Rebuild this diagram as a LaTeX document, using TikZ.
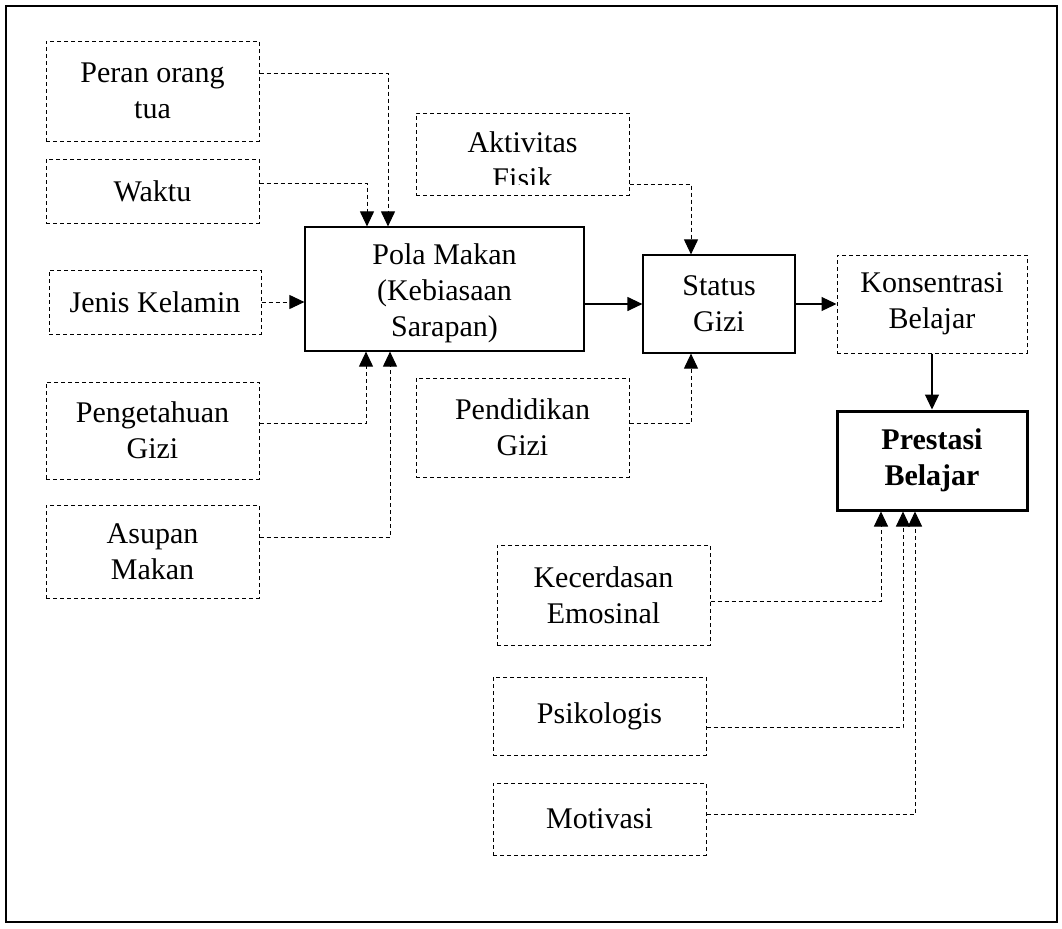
\documentclass[tikz,border=0pt]{standalone}
\usepackage{fontspec}
\setmainfont{Liberation Serif}
\usetikzlibrary{arrows.meta}
\tikzset{
  sz/.style 2 args={minimum width=0.5pt*#1, minimum height=0.5pt*#2},
  dbox/.style={draw, line width=0.5pt, dash pattern=on 2pt off 1.5pt, inner sep=0pt, align=center},
  sbox/.style={draw, line width=0.6pt, inner sep=0pt, align=center},
  bold/.style={font=\fontsize{15}{18}\selectfont\bfseries},
  link/.style={line width=0.5pt, dash pattern=on 2pt off 1.5pt, -{Triangle[length=7.5pt,width=7pt]}},
  flow/.style={line width=0.6pt, -{Triangle[length=7.5pt,width=7pt]}},
}
\begin{document}
\begin{tikzpicture}[x=0.5pt, y=-0.5pt, font=\fontsize{15}{18}\selectfont]
      \useasboundingbox (0,0) rectangle (1062,928);
      \draw[line width=1pt] (6,6) rectangle (1057,922);
      \draw
        (152.5,91) node[dbox,sz={213}{100}] (peran) {Peran orang\\tua}
        (152.5,191) node[dbox,sz={213}{64}] (waktu) {Waktu}
        (155,302) node[dbox,sz={212}{64}] (jenis) {Jenis Kelamin}
        (152.5,430.5) node[dbox,sz={213}{97}] (pengetahuan) {Pengetahuan\\Gizi}
        (152.5,551.5) node[dbox,sz={213}{93}] (asupan) {Asupan\\Makan}
        (444.5,289) node[sbox,sz={279}{124}] (pola) {}
        (522.5,154) node[dbox,sz={213}{82}] (aktivitas) {}
        (522.5,427.5) node[dbox,sz={213}{99}] (pendidikan) {Pendidikan\\Gizi}
        (719,304) node[sbox,sz={152}{98}] (status) {Status\\Gizi}
        (932,304) node[dbox,sz={190}{98}] (konsentrasi) {Konsentrasi\\Belajar}
        (932,460.5) node[sbox,bold,line width=1.5pt,sz={190}{99}] (prestasi) {Prestasi\\Belajar}
        (603.5,595) node[dbox,sz={213}{100}] (kecerdasan) {Kecerdasan\\Emosinal}
        (599.5,716) node[dbox,sz={213}{78}] (psikologis) {Psikologis}
        (599.5,819) node[dbox,sz={213}{72}] (motivasi) {Motivasi};
      % text cut off at the lower margin of the box
      \begin{scope}
        \clip (305,227) rectangle (584,343);
        \node[align=center] (polatxt) at (444.5,293) {Pola Makan\\(Kebiasaan\\Sarapan)};
      \end{scope}
      \begin{scope}
        \clip (416,113) rectangle (629,184);
        \node[align=center] (aktivitastxt) at (522.5,160) {Aktivitas\\Fisik};
      \end{scope}
      \begin{scope}[link]
        \draw ([yshift=9pt]peran.east) -| ([xshift=-28.25pt]pola.north);
        \draw ([yshift=4pt]waktu.east) -| ([xshift=-38.75pt]pola.north);
        \draw (jenis.east) -- (jenis.east -| pola.west);
        \draw ([yshift=3.75pt]pengetahuan.east) -| ([xshift=-39.25pt]pola.south);
        \draw ([yshift=7.25pt]asupan.east) -| ([xshift=-27.25pt]pola.south);
        \draw ([yshift=-15pt]aktivitas.east) -| ([xshift=-14pt]status.north);
        \draw ([yshift=2.25pt]pendidikan.east) -| ([xshift=-14pt]status.south);
        \draw ([yshift=-3pt]kecerdasan.east) -| ([xshift=-25.5pt]prestasi.south);
        \draw ([yshift=-5.5pt]psikologis.east) -| ([xshift=-14.5pt]prestasi.south);
        \draw ([yshift=2.5pt]motivasi.east) -| ([xshift=-8.5pt]prestasi.south);
      \end{scope}
      \begin{scope}[flow]
        \draw (pola.east |- status.west) -- (status.west);
        \draw (status.east) -- (konsentrasi.west);
        \draw (konsentrasi.south) -- (prestasi.north);
      \end{scope}
    \end{tikzpicture}
\end{document}
